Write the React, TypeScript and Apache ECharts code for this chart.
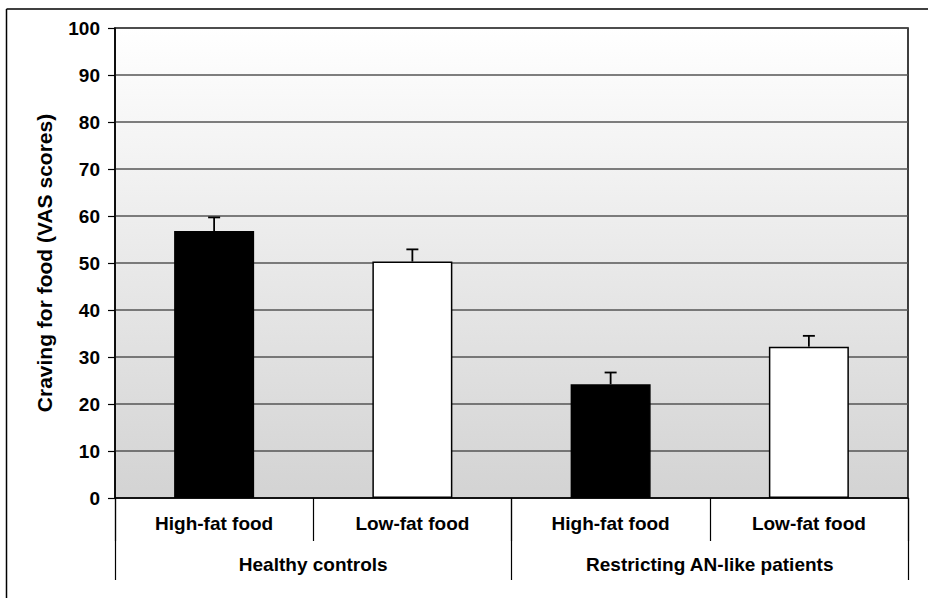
import React, { useEffect, useRef } from "react";
import * as echarts from "echarts";

const foodCategories = ["High-fat food", "Low-fat food", "High-fat food", "Low-fat food"];
const groupCategories = ["Healthy controls", "Restricting AN-like patients"];
const meanValues = [56.8, 50.3, 24.2, 32.2];
const errorValues = [2.9, 2.6, 2.5, 2.3];
const barColors = ["#000000", "#ffffff", "#000000", "#ffffff"];
const yAxisTitle = "Craving for food (VAS scores)";

export default function App() {
  const ref = useRef<HTMLDivElement>(null);
  useEffect(() => {
    if (!ref.current) return;
    const chart = echarts.init(ref.current, undefined, { renderer: "svg" });
    const font = "'Liberation Sans', Arial, sans-serif";
    chart.setOption({
      animation: false,
      backgroundColor: "#ffffff",
      textStyle: { fontFamily: font },
      grid: {
        left: 115,
        right: 20,
        top: 28,
        bottom: 100,
        show: true,
        borderColor: "#000",
        borderWidth: 1.5,
        backgroundColor: new echarts.graphic.LinearGradient(0, 0, 0, 1, [
          { offset: 0, color: "#ffffff" },
          { offset: 1, color: "#d3d3d3" },
        ]),
      },
      xAxis: [
        {
          type: "category",
          data: foodCategories,
          position: "bottom",
          axisLine: { show: true, lineStyle: { color: "#000", width: 1.5 } },
          axisTick: { show: true, length: 43, interval: 0, lineStyle: { color: "#000", width: 1.2 } },
          axisLabel: { interval: 0, margin: 16, fontSize: 19, fontWeight: "bold", color: "#000", fontFamily: font },
          splitLine: { show: false },
        },
        {
          type: "category",
          data: groupCategories,
          position: "bottom",
          axisLine: { show: false },
          axisTick: { show: true, length: 82, interval: 0, lineStyle: { color: "#000", width: 1.2 } },
          axisLabel: { interval: 0, margin: 57, fontSize: 19, fontWeight: "bold", color: "#000", fontFamily: font },
          splitLine: { show: false },
        },
      ],
      yAxis: {
        type: "value",
        min: 0,
        max: 100,
        interval: 10,
        name: yAxisTitle,
        nameLocation: "middle",
        nameGap: 60,
        nameTextStyle: { fontSize: 21, fontWeight: "bold", color: "#000", fontFamily: font },
        axisLine: { show: true, lineStyle: { color: "#000", width: 1.5 } },
        axisTick: { show: true, length: 7, inside: false, lineStyle: { color: "#000", width: 1.2 } },
        axisLabel: { fontSize: 19, fontWeight: "bold", color: "#000", margin: 15, fontFamily: font },
        splitLine: { show: true, lineStyle: { color: "#555", width: 1.5 } },
      },
      series: [
        {
          type: "bar",
          xAxisIndex: 0,
          barWidth: 80,
          data: meanValues.map((v, i) => ({
            value: v,
            itemStyle: { color: barColors[i], borderColor: "#000", borderWidth: 1.5 },
          })),
          z: 3,
        },
        {
          type: "custom",
          xAxisIndex: 0,
          z: 4,
          data: meanValues.map((v, i) => [i, v, v + errorValues[i]]),
          renderItem: (params: any, api: any) => {
            const base = api.coord([api.value(0), api.value(1)]);
            const top = api.coord([api.value(0), api.value(2)]);
            const half = 6;
            const style = { stroke: "#000", lineWidth: 1.8 };
            return {
              type: "group",
              children: [
                { type: "line", shape: { x1: base[0], y1: base[1], x2: top[0], y2: top[1] }, style },
                { type: "line", shape: { x1: top[0] - half, y1: top[1], x2: top[0] + half, y2: top[1] }, style },
              ],
            };
          },
        },
      ],
      graphic: [
        { type: "line", shape: { x1: 6.5, y1: 9, x2: 928, y2: 9 }, style: { stroke: "#000", lineWidth: 1.5 } },
        { type: "line", shape: { x1: 6.5, y1: 9, x2: 6.5, y2: 598 }, style: { stroke: "#000", lineWidth: 1.5 } },
      ],
    });
    return () => chart.dispose();
  }, []);
  return (
    <div
      ref={ref}
      style={{ position: "absolute", left: 0, top: 0, width: 928, height: 598 }}
    />
  );
}
